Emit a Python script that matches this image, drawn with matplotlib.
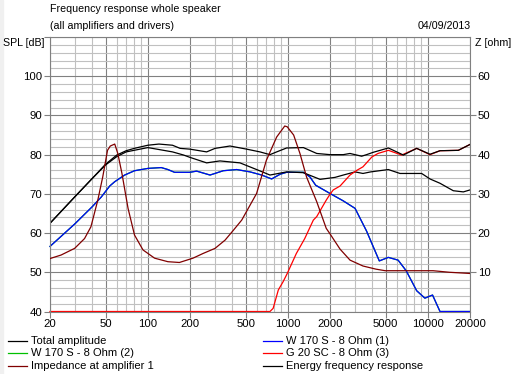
import numpy as np
import matplotlib
matplotlib.use("Agg")
import matplotlib.pyplot as plt
from matplotlib.lines import Line2D
from matplotlib.patches import Rectangle

# --- data ---
f_total = [20, 30, 40, 50, 60, 70, 80, 100, 120, 150, 170, 200, 263, 302, 386, 508, 632, 745, 832,
           980, 1291, 1608, 2000, 2490, 2778, 3366, 3650, 4075, 5222, 6685, 8320, 10360, 12210, 16500, 20000]
spl_total = [62.5, 69.2, 73.9, 77.6, 79.9, 81.0, 81.6, 82.4, 82.7, 82.4, 81.6, 81.4, 80.7, 81.6, 82.2, 81.4, 80.7, 80.0, 80.7,
             81.7, 81.8, 80.3, 80.0, 80.0, 80.3, 79.6, 80.0, 80.6, 81.7, 79.9, 81.6, 80.1, 81.0, 81.1, 82.6]

f_energy = [20, 30, 40, 50, 60, 70, 100, 150, 180, 200, 263, 327, 455, 598, 745, 980, 1291, 1697, 2171,
            2490, 3020, 3440, 3905, 5222, 6325, 9030, 10360, 12210, 15190, 17920, 20000]
spl_energy = [62.5, 69.2, 73.9, 77.4, 79.5, 80.7, 81.8, 80.7, 79.9, 79.3, 77.9, 78.4, 77.9, 76.2, 74.8, 75.6, 75.4, 73.7, 74.2,
              74.8, 75.6, 75.2, 75.6, 76.2, 75.2, 75.2, 73.8, 72.7, 70.8, 70.5, 71.0]

f_woofer = [20, 30, 40, 46.5, 53.4, 58, 68.3, 80.3, 100.5, 124.8, 139, 155, 200, 223, 278, 346, 431, 537, 650,
            766, 880, 980, 1291, 1439, 1580, 2000, 2490, 3020, 3650, 4500, 5220, 6130, 7000, 8320, 9520, 10800, 12210, 20000]
spl_woofer = [56.6, 62.3, 66.7, 69.2, 72.0, 73.1, 74.8, 75.9, 76.5, 76.7, 76.2, 75.5, 75.5, 75.8, 74.8, 75.9, 76.2, 75.6, 74.8,
              73.8, 75.0, 75.5, 75.5, 74.3, 72.2, 70.1, 68.2, 66.3, 60.5, 52.9, 53.8, 53.1, 50.4, 45.3, 43.4, 44.2, 40.0, 40.0]

f_tweeter = [20, 745, 785, 855, 925, 990, 1150, 1320, 1410, 1520, 1608, 1880, 2000, 2110, 2360, 2780, 3110, 3440,
             3980, 4400, 5222, 6500, 8320, 10360, 12210, 16500, 20000]
spl_tweeter = [40, 40, 40.8, 45.5, 47.6, 49.7, 54.8, 58.6, 60.8, 63.3, 64.2, 68.4, 69.9, 71.0, 72.0, 74.8, 76.0, 76.9,
               79.4, 80.3, 81.1, 79.9, 81.6, 80.0, 81.0, 81.1, 82.6]

f_imp = [20, 24, 30, 35.3, 39.2, 43.9, 47.6, 51.5, 53.9, 58, 61, 65.3, 72.2, 80.3, 92.3, 111.7, 139, 168, 210, 248,
         302, 356, 410, 468, 598, 703, 832, 950, 990, 1100, 1220, 1360, 1608, 1880, 2000, 2360, 2780, 3440, 4260,
         4960, 10900, 14300, 20000]
z_imp = [13.5, 14.4, 16.1, 18.6, 21.6, 28.4, 34.3, 41.1, 42.2, 42.7, 40.3, 35.2, 26.3, 19.5, 15.7, 13.6, 12.7, 12.5, 13.6, 14.8,
         16.1, 18.2, 20.8, 23.3, 30.1, 38.6, 44.5, 47.3, 47.1, 45.0, 40.3, 34.3, 28.0, 21.2, 19.8, 15.9, 13.1, 11.6, 10.8,
         10.4, 10.4, 10.0, 9.7]

x_ticks = [20, 50, 100, 200, 500, 1000, 2000, 5000, 10000, 20000]
x_minor = [30, 40, 60, 70, 80, 90, 300, 400, 600, 700, 800, 900, 3000, 4000, 6000, 7000, 8000, 9000]

legend_left = [("Total amplitude", "#000000"), ("W 170 S - 8 Ohm (2)", "#00c000"), ("Impedance at amplifier 1", "#800000")]
legend_right = [("W 170 S - 8 Ohm (1)", "#0000ff"), ("G 20 SC - 8 Ohm (3)", "#ff0000"), ("Energy frequency response", "#000000")]

plt.rcParams['font.family'] = ['Liberation Sans', 'DejaVu Sans']
W, H = 518, 374
FS = 7.7
fig = plt.figure(figsize=(W / 100, H / 100), dpi=100)
fig.patches.append(Rectangle((0, 0), 3 / W, 1, transform=fig.transFigure, color="#f0f0f0", zorder=0))

def px(x, y):
    return x / W, 1 - y / H

ax = fig.add_axes([50 / W, 1 - 311.5 / H, 420 / W, 274.5 / H])
ax.set_xscale('log')
ax.set_xlim(20, 20000)
ax.set_ylim(40, 110)

ax.set_xticks(x_ticks)
ax.set_xticklabels([str(t) for t in x_ticks])
ax.set_xticks(x_minor, minor=True)
ax.set_yticks(range(40, 111, 10))
ax.set_yticklabels([str(t) if t < 110 else "" for t in range(40, 111, 10)])
ax.set_yticks(range(40, 111, 2), minor=True)
ax.grid(which='minor', color="#c0c0c0", lw=0.8)
ax.grid(which='major', color="#808080", lw=0.8)
ax.set_axisbelow(True)
ax.tick_params(which='minor', length=0)
ax.tick_params(which='major', length=4, width=0.8, color="#808080", labelsize=FS + 0.5, pad=1.5)
for s in ax.spines.values():
    s.set_color("#808080")
    s.set_linewidth(0.8)

lw = 0.9
ax.plot(f_woofer, spl_woofer, color="#00c000", lw=lw, clip_on=False)
ax.plot(f_woofer, spl_woofer, color="#0000ff", lw=lw, clip_on=False)
ax.plot(f_energy, spl_energy, color="#000000", lw=lw)
ax.plot(f_tweeter, spl_tweeter, color="#ff0000", lw=lw, clip_on=False)
ax.plot(f_total, spl_total, color="#000000", lw=lw)

ax2 = ax.twinx()
ax2.set_ylim(0, 70)
ax2.set_yticks(range(10, 61, 10))
ax2.tick_params(length=4, width=0.8, color="#808080", labelsize=FS + 0.5, pad=1.5)
for s in ax2.spines.values():
    s.set_visible(False)
ax2.plot(f_imp, z_imp, color="#800000", lw=lw)

# header texts
fig.text(*px(50, 9), "Frequency response whole speaker", fontsize=FS, va='center', ha='left')
fig.text(*px(50, 26), "(all amplifiers and drivers)", fontsize=FS, va='center', ha='left')
fig.text(*px(471, 26), "04/09/2013", fontsize=FS, va='center', ha='right')
fig.text(*px(3, 43), "SPL [dB]", fontsize=FS, va='center', ha='left')
fig.text(*px(475, 43), "Z [ohm]", fontsize=FS, va='center', ha='left')

# legend
for x0, items in [(8, legend_left), (263, legend_right)]:
    for i, (label, color) in enumerate(items):
        y = 341 + i * 12.3
        fig.add_artist(Line2D([x0 / W, (x0 + 19) / W], [1 - y / H] * 2, color=color, lw=0.9))
        fig.text(*px(x0 + 23, y), label, fontsize=FS + 0.3, va='center', ha='left')

fig.savefig("out.png", dpi=100)
